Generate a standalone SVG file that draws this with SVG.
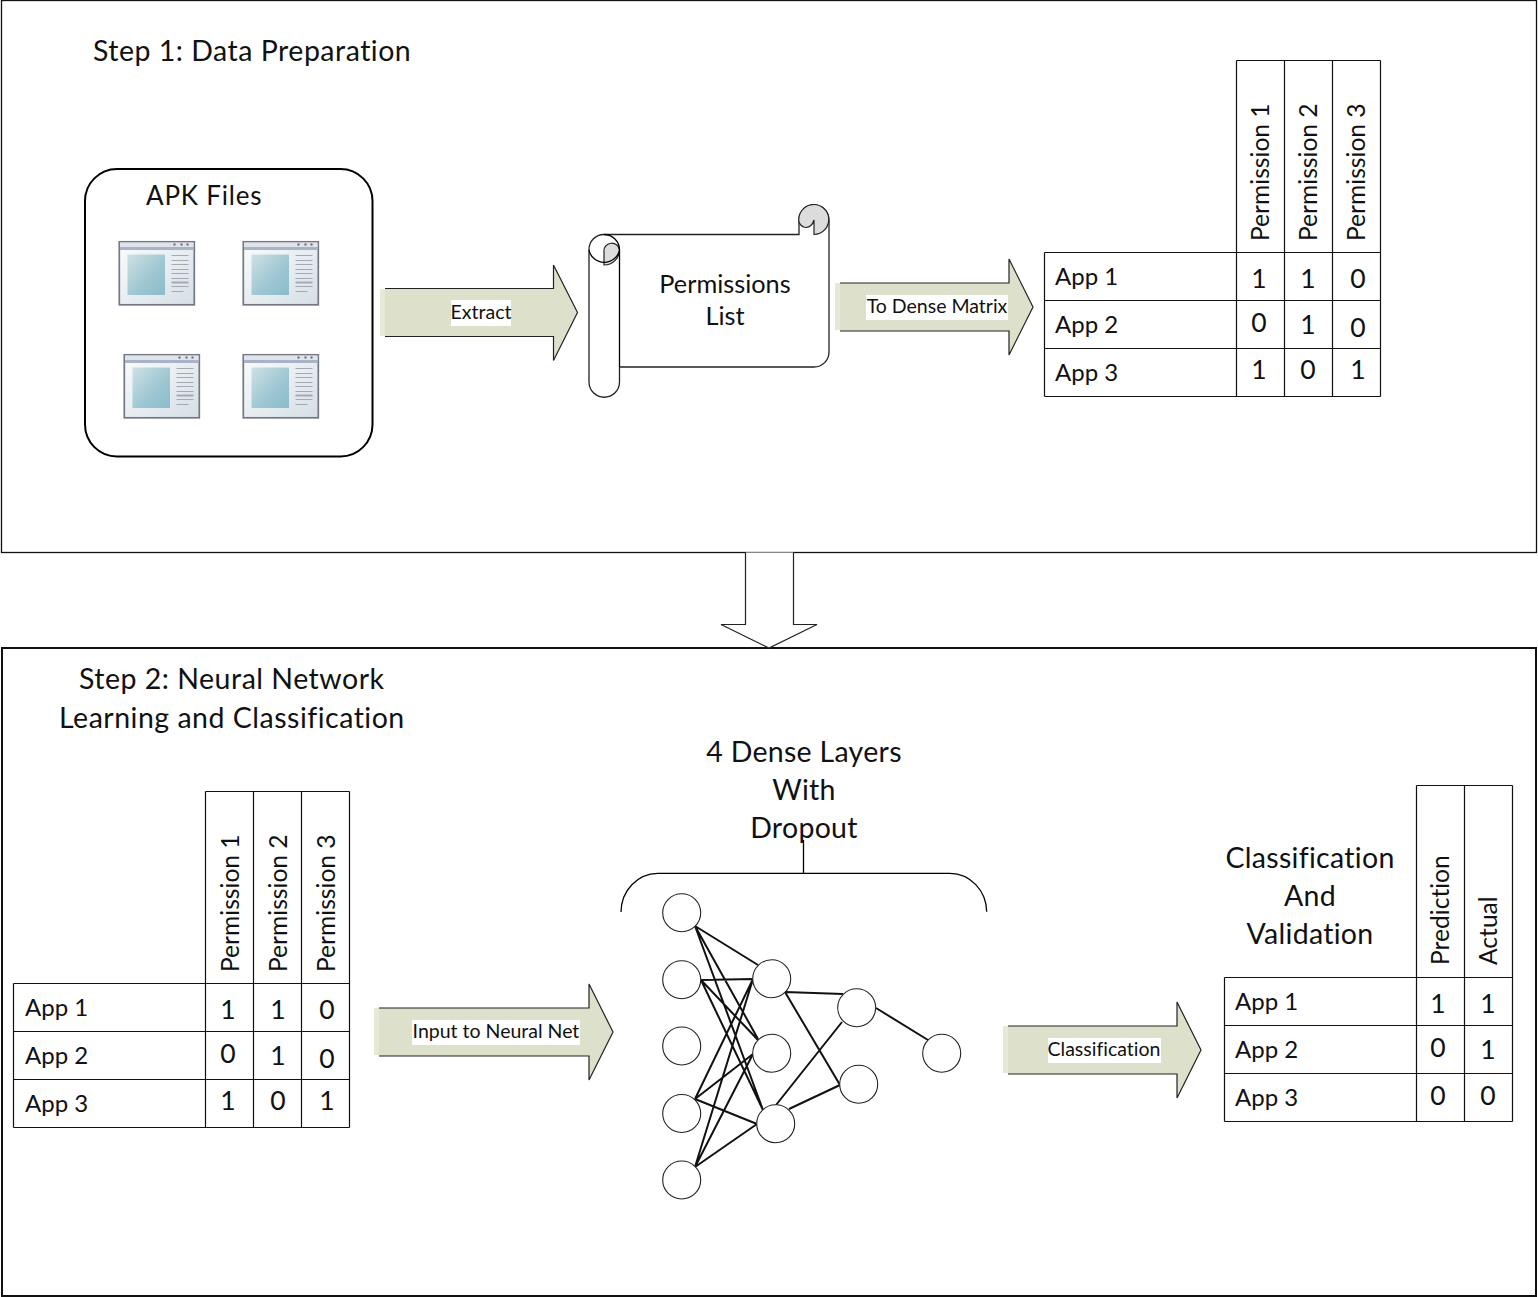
<svg xmlns="http://www.w3.org/2000/svg" xmlns:xlink="http://www.w3.org/1999/xlink" width="1538" height="1297" viewBox="0 0 1538 1297">
<style>
text{font-family:Lato,"Liberation Sans",sans-serif;fill:#111;font-variant-ligatures:none}
.h{font-size:28.5px;letter-spacing:.3px}
.t{font-size:28.5px;letter-spacing:.5px}
.m{font-size:26px}
.s{font-size:19.5px}
.r{font-size:24.600px}
.a{font-size:24px}
.d{font-size:26.500px;text-anchor:middle}
.c{text-anchor:middle}
.ln{fill:none;stroke:#000;stroke-width:1.3}
.cell{fill:none;stroke:#111;stroke-width:1.2}
.ar{fill:#dde0cb;stroke:#222;stroke-width:1.2}
.strip{fill:#e6e8d8}
.lab{fill:#fff}
.n{fill:#fff;stroke:#222;stroke-width:1.1}
.e{stroke:#111;stroke-width:2;fill:none}
.bx{fill:#fff;stroke:#111;stroke-width:1.3}
</style>
<defs>
<linearGradient id="wb" x1="0" y1="0" x2="1" y2="1"><stop offset="0" stop-color="#fbfcfd"/><stop offset="1" stop-color="#d5dfe6"/></linearGradient>
<linearGradient id="wp" x1="0" y1="0" x2="1" y2="1"><stop offset="0" stop-color="#cfe0e5"/><stop offset=".6" stop-color="#9cc6d1"/><stop offset="1" stop-color="#8abccb"/></linearGradient>
<g id="win">
<rect x="0.800" y="0.800" width="75" height="63" fill="url(#wb)" stroke="#767784" stroke-width="1.700"/>
<rect x="1.500" y="1.500" width="73.500" height="4.500" fill="#dfe3ea"/>
<rect x="1.500" y="6" width="73.500" height="3" fill="#a9b2c6"/>
<g fill="#666"><rect x="55" y="2.500" width="2" height="2"/><rect x="62" y="2.500" width="2" height="2"/><rect x="68" y="2.500" width="2" height="2"/></g>
<rect x="9" y="13.500" width="37.500" height="40.500" fill="url(#wp)"/>
<path stroke="#a4a9b2" stroke-width="1" fill="none" d="M53 14.500H70M53 19.500H70M53 23.500H70M53 28.500H70M53 32.500H70M53 37.500H70M53 45.500H70M53 50.500H65"/>
<path stroke="#a4a9b2" stroke-width="2" fill="none" d="M53 41.500H70"/>
</g>
</defs>

<g id="step1-panel">
<rect class="bx" x="1.500" y="0.500" width="1535" height="552"/>
<text class="t" x="93" y="61">Step 1: Data Preparation</text>
</g>
<g id="step2-panel">
<rect x="2" y="648" width="1534" height="648" fill="#fff" stroke="#111" stroke-width="2"/>
<text class="t" x="79" y="689">Step 2: Neural Network</text>
<text class="t" x="59" y="728">Learning and Classification</text>
</g>

<g id="connectors">
<path id="panel-arrow" d="M745.500 552.500V624.500H721L769 648L817 624.500H793.500V552.500" fill="#fff" stroke="#222" stroke-width="1.2"/>
<g id="arrow-extract"><rect class="strip" x="380" y="289" width="5" height="47"/><path class="ar" d="M385 288.500H553.500V265L577.500 312.500L553.500 360.500V336.500H385"/><rect class="lab" x="451" y="300" width="60" height="26"/><text class="s c" x="481" y="319">Extract</text></g>
<g id="arrow-dense"><rect class="strip" x="835" y="283" width="5" height="47"/><path class="ar" d="M840 283H1009V259L1033 307L1009 355V331H840"/><rect class="lab" x="866" y="295" width="142" height="25"/><text class="s c" x="937" y="313">To Dense Matrix</text></g>
<g id="arrow-input"><rect class="strip" x="374" y="1008" width="5" height="47"/><path class="ar" d="M379 1008H589V984L613 1032L589 1080V1056H379"/><rect class="lab" x="412" y="1020" width="168" height="25"/><text class="s c" x="496" y="1038">Input to Neural Net</text></g>
<g id="arrow-class"><rect class="strip" x="1003" y="1026" width="5" height="47"/><path class="ar" d="M1008 1026H1177V1002L1201 1050L1177 1098V1074H1008"/><rect class="lab" x="1048" y="1038" width="113" height="25"/><text class="s c" x="1104" y="1056">Classification</text></g>
</g>

<g id="apk-files">
<rect x="85" y="169" width="287.500" height="287.500" rx="32" fill="#fff" stroke="#000" stroke-width="2"/>
<text class="m" x="146" y="205" style="letter-spacing:.8px">APK Files</text>
<use xlink:href="#win" href="#win" x="118.500" y="241"/>
<use xlink:href="#win" href="#win" x="242.500" y="241"/>
<use xlink:href="#win" href="#win" x="123.500" y="354"/>
<use xlink:href="#win" href="#win" x="242.500" y="354"/>
</g>

<g id="permissions-list">
<path d="M589 250A15 15 0 0 1 604 234.500H799V220A15 15 0 0 1 829 220V352A15 15 0 0 1 814 367H619.500V382A15 15 0 0 1 589 382Z" fill="#fff" stroke="#222" stroke-width="1.3"/>
<path d="M799 222A15 15 0 1 1 814 234.500V220Q812 227 806 227.500Q801 227 799 222Z" fill="#dcdcdc" stroke="#222" stroke-width="1.200"/>
<path d="M604 265V252A7.500 7.500 0 0 1 619.500 250A15.500 15 0 0 1 604 265Z" fill="#dcdcdc" stroke="#222" stroke-width="1.200"/>
<path class="ln" d="M604 234.500A15.500 15.500 0 0 1 619.500 250V367M589 250A15.500 15 0 0 0 619.500 250"/>
<text class="m c" x="725" y="293" style="font-size:25.300px">Permissions</text>
<text class="m c" x="725" y="325" style="font-size:25.300px">List</text>
</g>

<g id="matrix-top">
<path class="cell" d="M1044.500 252.500H1380.500M1044.500 300.500H1380.500M1044.500 348.500H1380.500M1044.500 396.500H1380.500M1044.500 252.500V396.500M1236.500 60.500V396.500M1284.500 60.500V396.500M1332.500 60.500V396.500M1380.500 60.500V396.500M1236.500 60.500H1380.500"/>
<text class="a" x="1055" y="285">App 1</text><text class="a" x="1055" y="333">App 2</text><text class="a" x="1055" y="381">App 3</text>
<text class="r" transform="translate(1269 241) rotate(-90)">Permission 1</text>
<text class="r" transform="translate(1317 241) rotate(-90)">Permission 2</text>
<text class="r" transform="translate(1365 241) rotate(-90)">Permission 3</text>
<text class="d" x="1259" y="288">1</text><text class="d" x="1308" y="288">1</text><text class="d" x="1358" y="288">0</text>
<text class="d" x="1259" y="332">0</text><text class="d" x="1308" y="334">1</text><text class="d" x="1358" y="337">0</text>
<text class="d" x="1259" y="379">1</text><text class="d" x="1308" y="379">0</text><text class="d" x="1358" y="379">1</text>
</g>

<g id="matrix-bottom">
<path class="cell" d="M13.500 983.500H349.500M13.500 1031.500H349.500M13.500 1079.500H349.500M13.500 1127.500H349.500M13.500 983.500V1127.500M205.500 791.500V1127.500M253.500 791.500V1127.500M301.500 791.500V1127.500M349.500 791.500V1127.500M205.500 791.500H349.500"/>
<text class="a" x="25" y="1016">App 1</text><text class="a" x="25" y="1064">App 2</text><text class="a" x="25" y="1112">App 3</text>
<text class="r" transform="translate(239 972) rotate(-90)">Permission 1</text>
<text class="r" transform="translate(287 972) rotate(-90)">Permission 2</text>
<text class="r" transform="translate(335 972) rotate(-90)">Permission 3</text>
<text class="d" x="228" y="1019">1</text><text class="d" x="278" y="1019">1</text><text class="d" x="327" y="1019">0</text>
<text class="d" x="228" y="1063">0</text><text class="d" x="278" y="1065">1</text><text class="d" x="327" y="1068">0</text>
<text class="d" x="228" y="1110">1</text><text class="d" x="278" y="1110">0</text><text class="d" x="327" y="1110">1</text>
</g>

<g id="neural-network">
<text class="h c" x="804" y="762">4 Dense Layers</text>
<text class="h c" x="804" y="800">With</text>
<text class="h c" x="804" y="838">Dropout</text>
<path class="ln" d="M621 912A37 39 0 0 1 657.700 873.300H950A37 39 0 0 1 986.700 911.700M803.500 840V873.300"/>
<g id="nn-edges">
<path class="e" d="M695 926L758 965M695 926L758 1039M695 926L763 1110M701 980L753 979M701 980L758 1040M701 980L763 1110M695 1099L753 979M695 1099L753 1054M695 1099L757 1124M695 1167L753 979M695 1167L753 1054M695 1167L757 1124M785 992L843 994M785 992L840 1085M789 1109L840 1085M776 1105L842 1022M876 1008L928 1040"/>
</g>
<circle class="n" cx="681.700" cy="912.700" r="19"/><circle class="n" cx="681.700" cy="979.700" r="19"/><circle class="n" cx="681.700" cy="1046" r="19"/><circle class="n" cx="681.700" cy="1113.500" r="19"/><circle class="n" cx="681.700" cy="1180" r="19"/>
<circle class="n" cx="771.700" cy="978.700" r="19"/><circle class="n" cx="771.700" cy="1053.300" r="19"/><circle class="n" cx="775.700" cy="1123.700" r="19"/>
<circle class="n" cx="856.700" cy="1007.700" r="19"/><circle class="n" cx="858.700" cy="1084.300" r="19"/><circle class="n" cx="941.700" cy="1053.300" r="19"/>
</g>

<g id="classification-table">
<text class="h c" x="1310" y="868">Classification</text>
<text class="h c" x="1310" y="906">And</text>
<text class="h c" x="1310" y="944">Validation</text>
<path class="cell" d="M1224.500 977.500H1512.500M1224.500 1025.500H1512.500M1224.500 1073.500H1512.500M1224.500 1121.500H1512.500M1224.500 977.500V1121.500M1416.500 785.500V1121.500M1464.500 785.500V1121.500M1512.500 785.500V1121.500M1416.500 785.500H1512.500"/>
<text class="a" x="1235" y="1010">App 1</text><text class="a" x="1235" y="1058">App 2</text><text class="a" x="1235" y="1106">App 3</text>
<text class="r" transform="translate(1449 965) rotate(-90)">Prediction</text>
<text class="r" transform="translate(1497 965) rotate(-90)">Actual</text>
<text class="d" x="1438" y="1013">1</text><text class="d" x="1488" y="1013">1</text>
<text class="d" x="1438" y="1057">0</text><text class="d" x="1488" y="1059">1</text>
<text class="d" x="1438" y="1105">0</text><text class="d" x="1488" y="1105">0</text>
</g>
</svg>
